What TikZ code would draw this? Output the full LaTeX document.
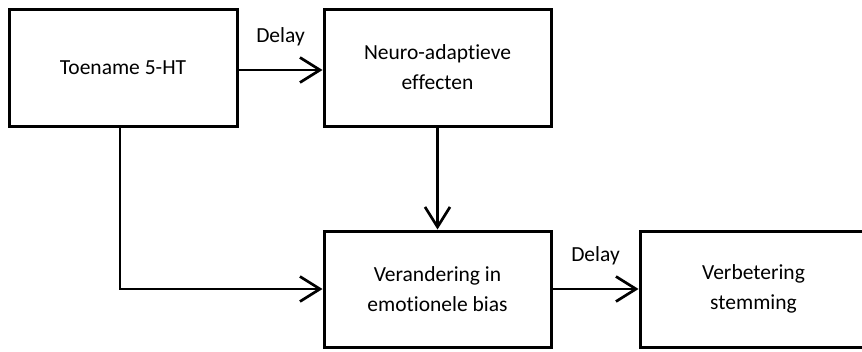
\documentclass[tikz,border=0pt]{standalone}
\usepackage{fontspec}
\setmainfont[Ligatures=NoCommon]{Carlito}
\usetikzlibrary{arrows.meta,positioning}
\tikzset{
  blok/.style={rectangle,draw=black,line width=3pt,fill=white,align=center,inner sep=0pt,
    minimum width=227pt,minimum height=117pt,font=\fontsize{21.5}{30}\selectfont},
  pijl/.style={-{Straight Barb[length=20pt,width=25pt,line width=2.7pt]},line width=2.7pt,black},
  lbl/.style={font=\fontsize{21.5}{26}\selectfont},
}
\begin{document}
\begin{tikzpicture}[x=1pt,y=-1pt]
  \useasboundingbox (0,0) rectangle (862,351);
  \clip (0,0) rectangle (862,351);
  % ---------------- boxes
  \node[blok,minimum width=228pt] (toename) at (123,67.5) {Toename 5-HT};
  \node[blok] (neuro) at (437.5,67.5) {Neuro-adaptieve\\effecten};
  \node[blok,minimum height=116pt] (bias) at (437.5,289) {Verandering in\\emotionele bias};
  \node[blok,minimum width=240pt,minimum height=116pt] (stemming) at (760,289) {\hspace*{-13pt}Verbetering\\\hspace*{-13pt}stemming};
  % ---------------- connectors
  \draw[pijl] (toename.east |- 0,70) -- node[lbl,midway,above=19pt] (delay1) {Delay} (neuro.west |- 0,70);
  \draw[pijl] (neuro.south) -- (bias.north);
  \draw[pijl] ([xshift=-3pt]toename.south) |- (bias.west);
  \draw[pijl] (bias.east) -- node[lbl,midway,above=19pt] (delay2) {Delay} (stemming.west);
\end{tikzpicture}
\end{document}
